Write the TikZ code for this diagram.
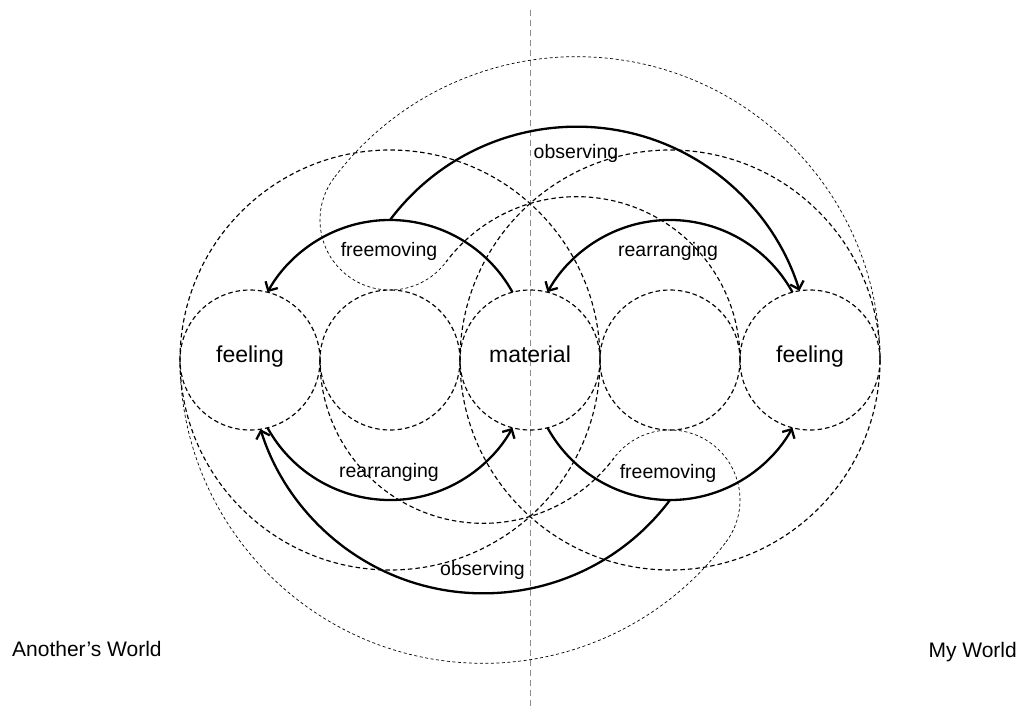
\documentclass[tikz,border=0pt]{standalone}
\usepackage{fontspec}
\setmainfont{Liberation Sans}
\usetikzlibrary{arrows.meta}
\begin{document}
\begin{tikzpicture}[x=1pt,y=-1pt,
  hub/.style={circle, draw, line width=1.15pt, dash pattern=on 4.5pt off 3pt,
    minimum size=140pt, inner sep=0pt, text height=0.72em, text depth=0.22em,
    font=\fontsize{23}{27}\selectfont},
  guide/.style={line width=1.15pt, dash pattern=on 4.5pt off 3pt},
  faint/.style={line width=0.7pt, dash pattern=on 3pt off 2.5pt},
  flow/.style={line width=2.3pt, -{Straight Barb[length=7pt,width=14pt]}},
  tag/.style={font=\fontsize{19.5}{22}\selectfont, inner sep=0pt, anchor=base},
  world/.style={font=\fontsize{21}{24}\selectfont, inner sep=0pt},
  axisline/.style={draw=black!45, line width=0.8pt, dash pattern=on 6pt off 4pt}]
\useasboundingbox (0,0) rectangle (1021,709);

% centre line between the two worlds
\coordinate (vt) at (530,10);
\coordinate (vb) at (530,709);
\draw[axisline] (vt) -- (vb);

% the five element circles
\node[hub] (fl) at (250,360) {feeling};
\node[hub] (ea) at (390,360) {};
\node[hub] (ma) at (530,360) {material};
\node[hub] (eb) at (670,360) {};
\node[hub] (fr) at (810,360) {feeling};

% construction centres
\coordinate (Z)  at (576.67,360);
\coordinate (Zp) at (483.33,360);
\coordinate (ta) at (390,220);
\coordinate (tb) at (670,500);

% large guide circles of each world
\draw[guide] (ea.center) circle[radius=210];
\draw[guide] (eb.center) circle[radius=210];

% inner guide arcs
\draw[guide] ([shift={(0:163.33)}]Z) arc[start angle=0, end angle=-143.13, radius=163.33];
\draw[guide] ([shift={(180:163.33)}]Zp) arc[start angle=180, end angle=36.87, radius=163.33];

% fine outer arcs, closed by the small loops round the free movement
\draw[faint] ([shift={(0:303.33)}]Z) arc[start angle=0, end angle=-143.13, radius=303.33];
\draw[faint] ([shift={(-143.13:70)}]ta) arc[start angle=-143.13, end angle=-323.13, radius=70];
\draw[faint] ([shift={(180:303.33)}]Zp) arc[start angle=180, end angle=36.87, radius=303.33];
\draw[faint] ([shift={(36.87:70)}]tb) arc[start angle=36.87, end angle=-143.13, radius=70];

% flows
\draw[flow] ([shift={(-28.96:140)}]ea.center) arc[start angle=-28.96, end angle=-151.04, radius=140];
\draw[flow] ([shift={(-28.96:140)}]eb.center) arc[start angle=-28.96, end angle=-151.04, radius=140];
\draw[flow] ([shift={(151.04:140)}]ea.center) arc[start angle=151.04, end angle=28.96, radius=140];
\draw[flow] ([shift={(151.04:140)}]eb.center) arc[start angle=151.04, end angle=28.96, radius=140];
\draw[flow] (ta) arc[start angle=-143.13, end angle=-17.25, radius=233.33];
\draw[flow] (tb) arc[start angle=36.87, end angle=162.75, radius=233.33];

% flow labels
\node[tag] (l1) at (389,256) {freemoving};
\node[tag] (l2) at (668,256) {rearranging};
\node[tag] (l3) at (576,158) {observing};
\node[tag] (l4) at (389,477.5) {rearranging};
\node[tag] (l5) at (668,478) {freemoving};
\node[tag] (l6) at (482.5,575) {observing};

% world names
\node[world, anchor=base west] (aw) at (12,656) {Another’s World};
\node[world, anchor=base east] (mw) at (1017,657) {My World};
\end{tikzpicture}
\end{document}
